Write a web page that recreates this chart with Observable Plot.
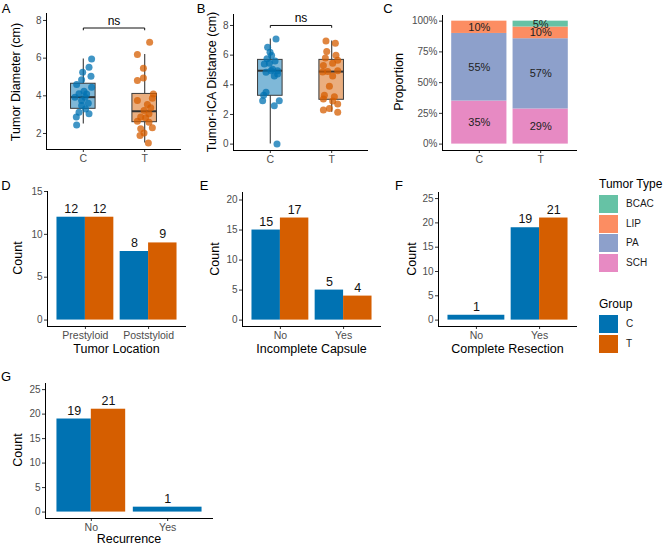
<!DOCTYPE html>
<html><head><meta charset="utf-8">
<script src="https://cdn.jsdelivr.net/npm/d3@7"></script>
<script src="https://cdn.jsdelivr.net/npm/@observablehq/plot@0.6"></script>
<style>
body{margin:0;background:#fff;font-family:"Liberation Sans",Arial,sans-serif;}
#fig{position:relative;width:669px;height:545px;overflow:hidden;background:#fff;}
.t{position:absolute;white-space:nowrap;line-height:1;color:#000;}
.k{position:absolute;}
</style></head><body><div id="fig"></div>
<script>
// ---------- data ----------
const groups = ["C", "T"];
const groupColors = ["#0072B2", "#D55E00"];
const types = ["BCAC", "LIP", "PA", "SCH"];
const typeColors = ["#66C2A5", "#FC8D62", "#8DA0CB", "#E78AC3"];
const stackOrder = ["SCH", "PA", "LIP", "BCAC"];

// Panel A: tumor diameter (cm), jitter offsets in category units
const diamC = [5.96, 5.52, 5.25, 5.04, 4.85, 4.6, 4.46, 4.24, 4.1, 4.11, 3.93, 3.93, 3.75, 3.61, 3.49, 3.3, 3.13, 3.05, 2.87, 2.45];
const diamCJit = [0.135, 0.093, -0.011, 0.125, -0.028, -0.109, 0.135, 0.011, 0.054, -0.07, -0.137, 0.028, -0.028, 0.081, -0.028, 0.037, -0.07, 0.093, -0.114, -0.109];
const diamT = [6.84, 6.2, 5.47, 4.95, 4.81, 4.1, 3.87, 3.54, 3.75, 3.36, 3.22, 3.05, 2.87, 2.83, 2.65, 2.6, 2.3, 2.25, 2.02, 1.89, 1.5];
const diamTJit = [0.081, -0.119, -0.021, -0.021, -0.119, 0.141, 0.125, 0.044, -0.119, 0.098, -0.011, 0.07, -0.065, 0.016, -0.119, 0.07, 0.125, -0.065, -0.011, -0.076, 0.06];
// box stats [lo, q1, median, q3, hi]
const diamBoxC = [2.51, 3.31, 3.93, 4.64, 5.96];
const diamBoxT = [1.5, 2.6, 3.18, 4.1, 6.2];

// Panel B: tumor-ICA distance (cm)
const icaC = [7.09, 6.53, 6.19, 5.97, 5.75, 5.6, 5.45, 5.4, 5.05, 4.95, 4.95, 4.85, 4.73, 4.6, 3.49, 3.3, 2.93, 2.93, 2.59, 0.0];
const icaCJit = [0.093, -0.044, -0.005, 0.021, -0.054, 0.077, -0.016, -0.098, 0.037, 0.011, 0.119, -0.07, 0.119, 0.065, -0.07, -0.109, -0.125, 0.146, 0.065, 0.109];
const icaT = [6.95, 6.8, 6.25, 6.0, 5.8, 5.65, 5.45, 5.3, 4.95, 4.9, 4.87, 4.6, 3.9, 3.3, 3.2, 3.05, 2.9, 2.7, 2.4, 2.3, 2.15];
const icaTJit = [-0.093, 0.06, -0.081, 0.07, -0.103, 0.098, 0.016, -0.135, 0.098, -0.065, -0.147, 0.016, -0.037, -0.119, 0.044, -0.135, 0.016, 0.098, -0.037, -0.135, 0.098];
const icaBoxC = [0.0, 3.26, 4.95, 5.68, 7.09];
const icaBoxT = [2.15, 2.99, 4.89, 5.68, 6.95];

const bracketA = 7.6, bracketB = 8.0, sigLabel = "ns";

// Panel C: tumor type counts per group (order = types)
const typeCountC = [0, 2, 11, 7];
const typeCountT = [1, 2, 12, 6];

// Panels D-G: counts
const locCats = ["Prestyloid", "Poststyloid"], locC = [12, 8], locT = [12, 9];
const capCats = ["No", "Yes"], capC = [15, 5], capT = [17, 4];
const resCats = ["No", "Yes"], resC = [1, 19], resT = [0, 21];
const recCats = ["No", "Yes"], recC = [19, 1], recT = [21, 0];

// ---------- helpers ----------
const FONT = "Liberation Sans, Arial, sans-serif";
const fig = document.getElementById("fig");
const groupScale = {domain: groups, range: groupColors};

function text(str, cx, cy, size, opts = {}) {
  const d = document.createElement("div");
  d.className = "t";
  d.textContent = str;
  d.style.fontSize = size + "px";
  d.style.left = cx + "px";
  d.style.top = cy + "px";
  const ax = opts.align === "left" ? "0" : "-50%";
  d.style.transform = `translate(${ax},-50%)` + (opts.rotate ? ` rotate(${opts.rotate}deg)` : "");
  if (opts.color) d.style.color = opts.color;
  fig.appendChild(d);
}

function panel({left, right, top, bottom, yDomain, yTicks, yFormat = d => d, cats, marks, color}) {
  const mL = 40, mR = 6, mT = 8, mB = 22;
  const svg = Plot.plot({
    width: right - left + mL + mR,
    height: bottom - top + mT + mB,
    marginLeft: mL, marginRight: mR, marginTop: mT, marginBottom: mB,
    x: {domain: [0.4, 2.6], axis: null},
    y: {domain: yDomain, axis: null},
    color,
    style: {fontFamily: FONT, background: "transparent", overflow: "visible"},
    marks: [
      ...marks,
      Plot.axisY({ticks: yTicks, tickFormat: yFormat, tickSize: 3, tickPadding: 2, stroke: "#333", fill: "#4d4d4d", fontSize: 10, label: null}),
      Plot.axisX({ticks: [1, 2], tickFormat: d => cats[d - 1], tickSize: 3, tickPadding: 2, stroke: "#333", fill: "#4d4d4d", fontSize: 10.5, label: null}),
      Plot.ruleX([0.4], {stroke: "#000", strokeWidth: 1}),
      Plot.ruleY([yDomain[0]], {stroke: "#000", strokeWidth: 1})
    ]
  });
  svg.style.position = "absolute";
  svg.style.left = (left - mL) + "px";
  svg.style.top = (top - mT) + "px";
  fig.appendChild(svg);
}

function dodge(cats, cCounts, tCounts) {
  const counts = {C: cCounts, T: tCounts};
  const out = [];
  cats.forEach((cat, i) => {
    const present = groups.filter(g => counts[g][i] > 0);
    const w = 0.9 / present.length;
    present.forEach((g, j) => {
      const x1 = i + 1 - 0.45 + j * w;
      out.push({cat, group: g, count: counts[g][i], x1, x2: x1 + w, xm: x1 + w / 2});
    });
  });
  return out;
}

function points(vals, jit, g) {
  const xi = groups.indexOf(g) + 1;
  return vals.map((v, k) => ({group: g, v, x: xi + jit[k]}));
}
function box(stats, g) {
  const xi = groups.indexOf(g) + 1;
  return {group: g, x: xi, x1: xi - 0.2, x2: xi + 0.2, lo: stats[0], q1: stats[1], med: stats[2], q3: stats[3], hi: stats[4]};
}

function boxPanel(spec, ptsC, jitC, ptsT, jitT, boxC, boxT, bracketY, tip) {
  const pts = [...points(ptsC, jitC, "C"), ...points(ptsT, jitT, "T")];
  const boxes = [box(boxC, "C"), box(boxT, "T")];
  const br = [{x: 1, y: bracketY - tip}, {x: 1, y: bracketY}, {x: 2, y: bracketY}, {x: 2, y: bracketY - tip}];
  panel({...spec, cats: groups, color: groupScale, marks: [
    Plot.ruleX(boxes, {x: "x", y1: "lo", y2: "q1", stroke: "#4a4a4a", strokeWidth: 1.2}),
    Plot.ruleX(boxes, {x: "x", y1: "q3", y2: "hi", stroke: "#4a4a4a", strokeWidth: 1.2}),
    Plot.rect(boxes, {x1: "x1", x2: "x2", y1: "q1", y2: "q3", fill: "group", fillOpacity: 0.5, stroke: "#3a3a3a", strokeWidth: 1}),
    Plot.ruleY(boxes, {y: "med", x1: "x1", x2: "x2", stroke: "#333", strokeWidth: 2}),
    Plot.dot(pts, {x: "x", y: "v", fill: "group", r: 3.5, fillOpacity: 0.75}),
    Plot.line(br, {x: "x", y: "y", stroke: "#111", strokeWidth: 1}),
    Plot.text([sigLabel], {x: 1.5, y: bracketY, text: d => d, dy: -7, fontSize: 12, fill: "#000"})
  ]});
}

function barPanel(spec, cats, cCounts, tCounts) {
  const bars = dodge(cats, cCounts, tCounts);
  const M = 1.25 * d3.max(bars, d => d.count);
  panel({...spec, cats, yDomain: [-0.05 * M, M], color: groupScale, marks: [
    Plot.rectY(bars, {x1: "x1", x2: "x2", y1: 0, y2: "count", fill: "group"}),
    Plot.text(bars, {x: "xm", y: "count", text: "count", dy: -8.5, fontSize: 12.5, fill: "#111"})
  ]});
}

// ---------- Panel A ----------
boxPanel({left: 46, right: 181, top: 13, bottom: 149, yDomain: [1.15, 8.37], yTicks: [2, 4, 6, 8]},
  diamC, diamCJit, diamT, diamTJit, diamBoxC, diamBoxT, bracketA, 0.1);
// ---------- Panel B ----------
boxPanel({left: 233, right: 368, top: 14, bottom: 150, yDomain: [-0.43, 8.74], yTicks: [0, 2, 4, 6, 8]},
  icaC, icaCJit, icaT, icaTJit, icaBoxC, icaBoxT, bracketB, 0.13);

// ---------- Panel C ----------
{
  const segs = [];
  [["C", typeCountC], ["T", typeCountT]].forEach(([g, counts]) => {
    const xi = groups.indexOf(g) + 1;
    const total = d3.sum(counts);
    let acc = 0;
    stackOrder.forEach(t => {
      const n = counts[types.indexOf(t)];
      if (n > 0) {
        const p = n / total;
        segs.push({group: g, type: t, x1: xi - 0.45, x2: xi + 0.45, xm: xi, y1: acc, y2: acc + p, ym: acc + p / 2, label: Math.round(p * 100) + "%"});
        acc += p;
      }
    });
  });
  panel({left: 442, right: 577, top: 15, bottom: 150, yDomain: [-0.052, 1.046], yTicks: [0, 0.25, 0.5, 0.75, 1], yFormat: d => Math.round(d * 100) + "%", cats: groups,
    color: {domain: types, range: typeColors},
    marks: [
      Plot.rect(segs, {x1: "x1", x2: "x2", y1: "y1", y2: "y2", fill: "type"}),
      Plot.text(segs, {x: "xm", y: "ym", text: "label", fontSize: 11, fill: "#222"})
    ]});
}

// ---------- Panels D-G ----------
barPanel({left: 47, right: 186, top: 191, bottom: 326, yTicks: [0, 5, 10, 15]}, locCats, locC, locT);
barPanel({left: 242, right: 381, top: 192, bottom: 326, yTicks: [0, 5, 10, 15, 20]}, capCats, capC, capT);
barPanel({left: 438, right: 577, top: 192, bottom: 326, yTicks: [0, 5, 10, 15, 20, 25]}, resCats, resC, resT);
barPanel({left: 45, right: 213, top: 383, bottom: 518, yTicks: [0, 5, 10, 15, 20, 25]}, recCats, recC, recT);

// ---------- titles ----------
const AX = 12.5;
text("Tumor Diameter (cm)", 16, 81.5, AX, {rotate: -90});
text("Tumor-ICA Distance (cm)", 212, 82, AX, {rotate: -90});
text("Proportion", 398.5, 82, AX, {rotate: -90});
text("Count", 17.5, 257.5, AX, {rotate: -90});
text("Count", 215, 259, AX, {rotate: -90});
text("Count", 412, 259, AX, {rotate: -90});
text("Count", 17.5, 450, AX, {rotate: -90});
text("Tumor Location", 116.5, 348.5, AX);
text("Incomplete Capsule", 311.5, 348.5, AX);
text("Complete Resection", 507.5, 348.5, AX);
text("Recurrence", 129, 538.5, AX);

// panel tags
const tags = [["A", 6, 8], ["B", 201, 7.5], ["C", 388, 7.5], ["D", 6, 185], ["E", 204, 184.5], ["F", 399, 184.5], ["G", 6, 376]];
tags.forEach(([s, x, y]) => text(s, x, y, 13));

// ---------- legends ----------
function legend(title, labels, colors, titleY, keyY0) {
  text(title, 599, titleY, 12, {align: "left"});
  labels.forEach((lab, i) => {
    const k = document.createElement("div");
    k.className = "k";
    k.style.left = "599px";
    k.style.top = (keyY0 + i * 19.5) + "px";
    k.style.width = "19px";
    k.style.height = "18px";
    k.style.background = colors[i];
    fig.appendChild(k);
    text(lab, 626, keyY0 + i * 19.5 + 9, 10, {align: "left", color: "#1a1a1a"});
  });
}
legend("Tumor Type", types, typeColors, 183.5, 195);
legend("Group", groups, groupColors, 303.5, 315);
</script></body></html>
